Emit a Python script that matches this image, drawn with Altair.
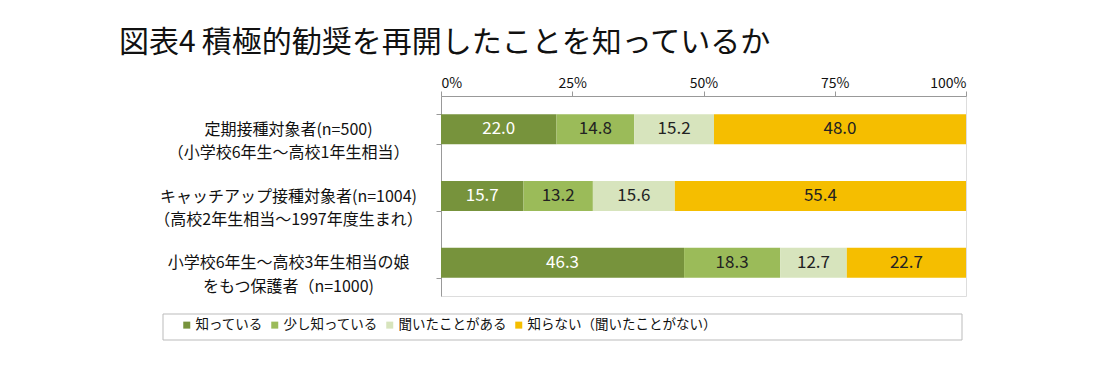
import altair as alt
import pandas as pd

title_text = "図表4\u2009積極的勧奨を再開したことを知っているか"
groups = [
    "定期接種対象者(n=500)\n（小学校6年生～高校1年生相当）",
    "キャッチアップ接種対象者(n=1004)\n（高校2年生相当～1997年度生まれ）",
    "小学校6年生～高校3年生相当の娘\nをもつ保護者（n=1000)",
]
answers = ["知っている", "少し知っている", "聞いたことがある", "知らない（聞いたことがない）"]
v_know = [22.0, 15.7, 46.3]
v_little = [14.8, 13.2, 18.3]
v_heard = [15.2, 15.6, 12.7]
v_dont = [48.0, 55.4, 22.7]
colors = ["#77933C", "#9BBB59", "#D7E4BD", "#F5BE00"]
text_colors = ["#ffffff", "#222222", "#222222", "#222222"]
x_ticks = [0, 0.25, 0.5, 0.75, 1.0]

series = [v_know, v_little, v_heard, v_dont]
rows = []
for k, (ans, vals) in enumerate(zip(answers, series)):
    for g, v in zip(groups, vals):
        rows.append({"group": g, "answer": ans, "k": k, "value": v, "tc": text_colors[k]})
df = pd.DataFrame(rows)

FONT = "Noto Sans CJK JP"

base = alt.Chart(df).transform_stack(
    stack="value", groupby=["group"], as_=["x0", "x1"],
    sort=[alt.SortField("k", order="ascending")], offset="normalize"
).transform_calculate(mid="(datum.x0 + datum.x1) / 2")

yenc = alt.Y(
    "group:N", sort=groups, title=None,
    scale=alt.Scale(paddingInner=0.55, paddingOuter=0.275),
    axis=alt.Axis(
        labelExpr="split(datum.label, '\\n')", labelFont=FONT, labelFontSize=16,
        labelLineHeight=23.5, labelAlign="center", labelPadding=148, labelColor="#111",
        labelLimit=0,
        tickBand="extent", tickSize=5, tickColor="#999", domainColor="#999",
        labelBaseline="middle",
    ),
)

bars = base.mark_bar().encode(
    y=yenc,
    x=alt.X("x0:Q", scale=alt.Scale(domain=[0, 1]), title=None,
            axis=alt.Axis(orient="top", values=x_ticks, format=".0%", grid=False,
                          labelFont=FONT, labelFontSize=14, labelColor="#111",
                          tickSize=5, tickColor="#999", domainColor="#999", labelPadding=1)),
    x2="x1:Q",
    color=alt.Color("answer:N", scale=alt.Scale(domain=answers, range=colors), sort=answers,
                    legend=alt.Legend(orient="none", legendX=-261, legendY=222, direction="horizontal",
                                      title=None, symbolType="square", symbolSize=49,
                                      symbolStrokeWidth=0, labelFont=FONT, labelFontSize=13.5,
                                      labelLimit=0,
                                      labelColor="#111", columnPadding=5, labelOffset=2, padding=0)),
)

labels = base.mark_text(font=FONT, fontSize=17, baseline="middle", align="center").encode(
    y=alt.Y("group:N", sort=groups),
    x=alt.X("mid:Q"),
    text=alt.Text("value:Q", format=".1f"),
    color=alt.Color("tc:N", scale=None),
)

title = alt.Chart(pd.DataFrame({"t": [title_text]})).mark_text(
    font=FONT, fontSize=30, align="left", baseline="middle", color="#111"
).encode(x=alt.value(-322), y=alt.value(-53), text="t:N")

legend_box = alt.Chart(pd.DataFrame({"a": [0]})).mark_rect(
    fill=None, stroke="#bbbbbb", strokeWidth=1
).encode(x=alt.value(-278), x2=alt.value(521), y=alt.value(218), y2=alt.value(244))

chart = alt.layer(bars, labels, title, legend_box).properties(
    width=525, height=200,
    autosize=alt.AutoSizeParams(type="none"),
    padding={"left": 433, "top": 88, "right": 100, "bottom": 60},
).configure_view(stroke=None).configure(background="white")

chart.save("out.html", embed_options={"renderer": "svg", "actions": False})
